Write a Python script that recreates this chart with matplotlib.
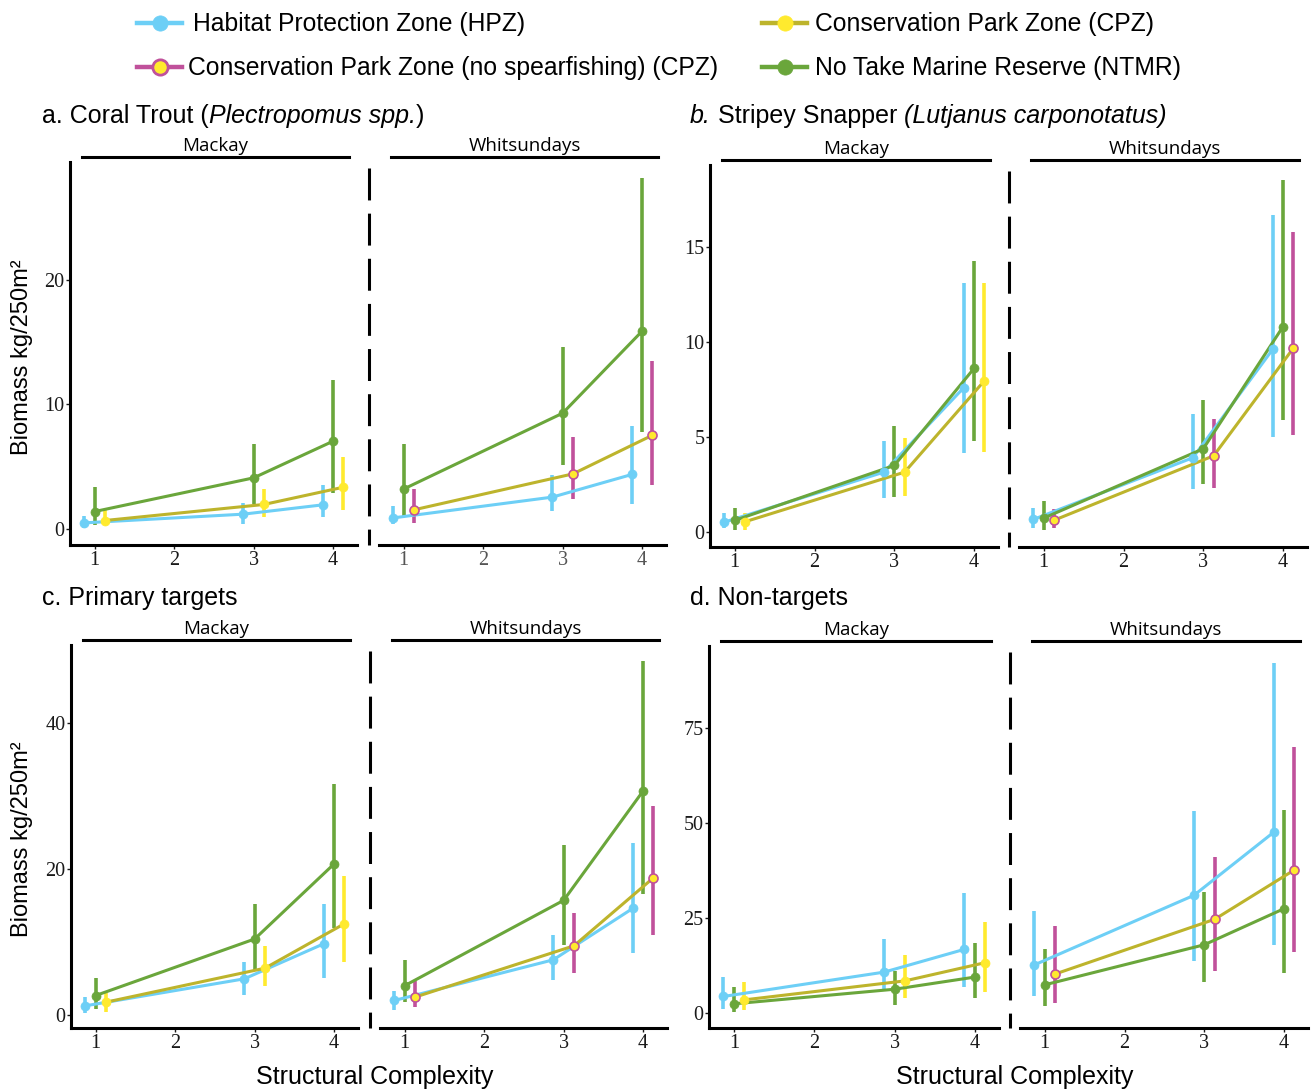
import numpy as np
import matplotlib.pyplot as plt
from matplotlib.lines import Line2D

W, H = 1311, 1090
plt.rcParams['font.family'] = ['Liberation Serif', 'DejaVu Serif']
plt.rcParams['lines.scale_dashes'] = False

# colours
c_hpz = '#6DCFF6'
c_cpz_line = '#BDB42C'
c_cpz_pt = '#FFEA2E'
c_ns = '#C0519B'
c_ntmr = '#6AA63B'

levels = [1, 3, 4]

# values are [mean, lower, upper] at complexity 1, 3, 4
# a. Coral trout
a_mk_hpz = [[0.48, 0.10, 1.0], [1.18, 0.40, 2.1], [1.93, 0.94, 3.5]]
a_mk_ntmr = [[1.39, 0.27, 3.35], [4.1, 2.0, 6.8], [7.05, 2.9, 12.0]]
a_mk_cpz = [[0.67, 0.27, 1.5], [1.96, 0.94, 3.2], [3.35, 1.53, 5.76]]
a_wh_hpz = [[0.88, 0.35, 1.8], [2.55, 1.4, 4.3], [4.37, 2.0, 8.3]]
a_wh_ntmr = [[3.2, 1.07, 6.8], [9.3, 5.1, 14.6], [15.9, 7.8, 28.2]]
a_wh_cpzns = [[1.53, 0.46, 3.2], [4.42, 2.4, 7.4], [7.53, 3.5, 13.5]]
# b. Stripey snapper
b_mk_hpz = [[0.51, 0.2, 1.0], [3.14, 1.79, 4.77], [7.58, 4.12, 13.1]]
b_mk_ntmr = [[0.6, 0.12, 1.26], [3.49, 1.84, 5.56], [8.6, 4.77, 14.25]]
b_mk_cpz = [[0.53, 0.12, 1.0], [3.14, 1.88, 4.95], [7.95, 4.19, 13.1]]
b_wh_hpz = [[0.65, 0.21, 1.26], [3.9, 2.26, 6.2], [9.6, 5.0, 16.65]]
b_wh_ntmr = [[0.72, 0.12, 1.6], [4.37, 2.49, 6.96], [10.8, 5.9, 18.5]]
b_wh_cpzns = [[0.61, 0.21, 1.2], [4.0, 2.3, 5.95], [9.67, 5.1, 15.8]]
# c. Primary targets
c_mk_hpz = [[1.24, 0.23, 2.5], [4.94, 2.75, 7.3], [9.75, 5.0, 15.2]]
c_mk_ntmr = [[2.65, 0.8, 5.0], [10.4, 5.95, 15.2], [20.7, 11.9, 31.7]]
c_mk_cpz = [[1.74, 0.46, 3.0], [6.4, 4.0, 9.4], [12.5, 7.3, 19.0]]
c_wh_hpz = [[1.97, 0.69, 3.34], [7.55, 4.8, 11.0], [14.6, 8.47, 23.6]]
c_wh_ntmr = [[4.0, 1.7, 7.55], [15.7, 9.6, 23.3], [30.7, 16.5, 48.5]]
c_wh_cpzns = [[2.43, 1.14, 4.6], [9.47, 5.7, 13.9], [18.8, 11.0, 28.6]]
# d. Non-targets
d_mk_hpz = [[4.4, 1.05, 9.6], [10.8, 6.1, 19.5], [16.8, 7.0, 31.6]]
d_mk_ntmr = [[2.46, 0.2, 6.8], [6.3, 2.2, 11.0], [9.5, 3.9, 18.4]]
d_mk_cpz = [[3.5, 0.9, 8.3], [8.5, 3.9, 15.4], [13.3, 5.7, 23.9]]
d_wh_hpz = [[12.7, 4.4, 27.0], [31.0, 13.8, 53.1], [47.6, 18.0, 92.1]]
d_wh_ntmr = [[7.46, 1.9, 16.8], [18.0, 8.1, 32.0], [27.5, 10.5, 53.5]]
d_wh_cpzns = [[10.3, 2.8, 23.0], [24.7, 11.0, 41.2], [37.7, 16.0, 70.0]]

y_ticks = {'a': [0, 10, 20], 'b': [0, 5, 10, 15], 'c': [0, 20, 40], 'd': [0, 25, 50, 75]}
y_lims = {'a': (-1.3, 29.5), 'b': (-0.8, 19.3), 'c': (-1.8, 50.7), 'd': (-3.9, 96.6)}

# zone styles: offset, bar colour, line colour, marker face, marker edge
zones = {
    'hpz': (-0.13, c_hpz, c_hpz, c_hpz, c_hpz),
    'ntmr': (0.0, c_ntmr, c_ntmr, c_ntmr, c_ntmr),
    'cpz': (0.13, c_cpz_pt, c_cpz_line, c_cpz_pt, c_cpz_pt),
    'cpzns': (0.13, c_ns, c_cpz_line, c_cpz_pt, c_ns),
}

panels = {
    'a': [('Mackay', [('hpz', a_mk_hpz), ('ntmr', a_mk_ntmr), ('cpz', a_mk_cpz)]),
          ('Whitsundays', [('hpz', a_wh_hpz), ('ntmr', a_wh_ntmr), ('cpzns', a_wh_cpzns)])],
    'b': [('Mackay', [('hpz', b_mk_hpz), ('ntmr', b_mk_ntmr), ('cpz', b_mk_cpz)]),
          ('Whitsundays', [('hpz', b_wh_hpz), ('ntmr', b_wh_ntmr), ('cpzns', b_wh_cpzns)])],
    'c': [('Mackay', [('hpz', c_mk_hpz), ('ntmr', c_mk_ntmr), ('cpz', c_mk_cpz)]),
          ('Whitsundays', [('hpz', c_wh_hpz), ('ntmr', c_wh_ntmr), ('cpzns', c_wh_cpzns)])],
    'd': [('Mackay', [('hpz', d_mk_hpz), ('ntmr', d_mk_ntmr), ('cpz', d_mk_cpz)]),
          ('Whitsundays', [('hpz', d_wh_hpz), ('ntmr', d_wh_ntmr), ('cpzns', d_wh_cpzns)])],
}

# pixel boxes (left, top, right, bottom) for Mackay and Whitsundays axes
boxes = {
    'a': [(70, 162, 357, 545), (379, 162, 666, 545)],
    'b': [(710, 165, 998, 547), (1019, 165, 1307, 547)],
    'c': [(71, 645, 358, 1028), (380, 645, 667, 1028)],
    'd': [(709, 646, 999, 1028), (1020, 646, 1308, 1028)],
}

fig = plt.figure(figsize=(W / 100, H / 100), dpi=100)
ov = fig.add_axes([0, 0, 1, 1])
ov.set_xlim(0, W)
ov.set_ylim(H, 0)
ov.axis('off')


def draw_region(ax, series):
    for zone, vals in series:
        off, bar_c, line_c, face, edge = zones[zone]
        v = np.array(vals)
        x = np.array(levels) + off
        ax.vlines(x, v[:, 1], v[:, 2], color=bar_c, lw=2.6, zorder=2)
    for zone, vals in series:
        off, bar_c, line_c, face, edge = zones[zone]
        v = np.array(vals)
        x = np.array(levels) + off
        ax.plot(x, v[:, 0], color=line_c, lw=2.2, zorder=3)
    for zone, vals in series:
        off, bar_c, line_c, face, edge = zones[zone]
        v = np.array(vals)
        x = np.array(levels) + off
        ax.plot(x, v[:, 0], ls='none', marker='o', ms=6.5, mfc=face, mec=edge,
                mew=1.2 if zone == 'cpzns' else 0.5, zorder=4)


for key, regions in panels.items():
    for i, (region, series) in enumerate(regions):
        l, t, r, b = boxes[key][i]
        ax = fig.add_axes([l / W, 1 - b / H, (r - l) / W, (b - t) / H])
        ax.patch.set_alpha(0)
        draw_region(ax, series)
        ax.set_xlim(0.69, 4.3)
        ax.set_ylim(*y_lims[key])
        ax.set_xticks([1, 2, 3, 4])
        ax.set_yticks(y_ticks[key])
        ax.spines['top'].set_visible(False)
        ax.spines['right'].set_visible(False)
        ax.spines['bottom'].set_linewidth(2.2)
        ax.spines['left'].set_linewidth(2.2)
        ax.tick_params(labelsize=14.5, length=3, width=1, pad=1, colors='#1a1a1a')
        if i == 1:
            ax.spines['left'].set_visible(False)
            ax.tick_params(axis='y', left=False, labelleft=False)
            if key == 'a':
                ax.tick_params(axis='x', labelcolor='#555555')
            # dashed separator
            ov.add_line(Line2D([l - 10, l - 10], [t + 6, b], color='black', lw=2.2,
                               linestyle=(0, (23, 9.5))))
        # strip
        ov.add_line(Line2D([l + 12, r - 8], [t - 5, t - 5], color='black', lw=2.2))
        ov.text((l + r) / 2 + 2, t - 7, region, family='Open Sans', fontsize=13.5,
                ha='center', va='bottom')

renderer = fig.canvas.get_renderer()


def rich(x, y, parts, size=18):
    for s, style in parts:
        txt = ov.text(x, y, s, fontsize=size, family='Liberation Sans', style=style,
                      ha='left', va='center')
        x += txt.get_window_extent(renderer=renderer).width


rich(42, 116, [('a. Coral Trout (', 'normal'), ('Plectropomus spp.', 'italic'), (')', 'normal')])
rich(690, 116, [('b.', 'italic'), (' Stripey Snapper', 'normal'), (' (Lutjanus carponotatus)', 'italic')])
rich(42, 598, [('c. Primary targets', 'normal')])
rich(690, 598, [('d. Non-targets', 'normal')])

for yc in [357, 839]:
    ov.text(22, yc, 'Biomass kg/250m²', family='Liberation Sans', fontsize=17,
            rotation=90, ha='center', va='center')
for xc in [375, 1015]:
    ov.text(xc, 1077, 'Structural Complexity', family='Liberation Sans', fontsize=18,
            ha='center', va='center')

# legend
legend_items = [
    (137, 193, 23, 'Habitat Protection Zone (HPZ)', c_hpz, c_hpz, c_hpz),
    (762, 815, 23, 'Conservation Park Zone (CPZ)', c_cpz_line, c_cpz_pt, c_cpz_pt),
    (137, 188, 67, 'Conservation Park Zone (no spearfishing) (CPZ)', c_ns, c_cpz_pt, c_ns),
    (762, 815, 67, 'No Take Marine Reserve (NTMR)', c_ntmr, c_ntmr, c_ntmr),
]
for hx, tx, ty, label, lc, fc, ec in legend_items:
    ov.add_line(Line2D([hx, hx + 45], [ty, ty], color=lc, lw=3.2))
    ov.add_line(Line2D([hx + 22.5], [ty], marker='o', ms=11, mfc=fc, mec=ec,
                       mew=2 if lc == c_ns else 0.5))
    ov.text(tx, ty + 1, label, family='Liberation Sans', fontsize=17.8, ha='left', va='center')

fig.savefig('out.png', dpi=100)
